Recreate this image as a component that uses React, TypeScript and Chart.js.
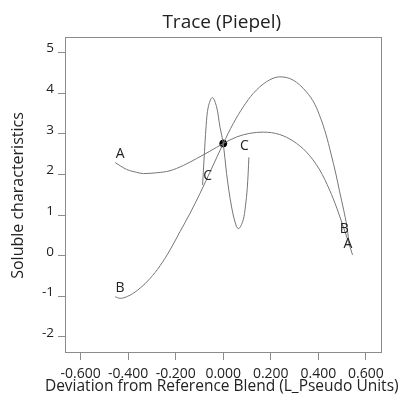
import React, { useEffect, useRef } from 'react';
import { Chart, registerables } from 'chart.js';

Chart.register(...registerables);

const curveNames = ['A', 'B', 'C'];

const curveA = [
  { x: -0.455, y: 2.29 }, { x: -0.406, y: 2.12 }, { x: -0.364, y: 2.05 },
  { x: -0.336, y: 2.02 }, { x: -0.28, y: 2.04 }, { x: -0.224, y: 2.09 },
  { x: -0.168, y: 2.22 }, { x: -0.112, y: 2.39 }, { x: -0.056, y: 2.57 },
  { x: 0, y: 2.76 }, { x: 0.056, y: 2.92 }, { x: 0.112, y: 3.01 },
  { x: 0.168, y: 3.04 }, { x: 0.238, y: 2.98 }, { x: 0.294, y: 2.82 },
  { x: 0.35, y: 2.55 }, { x: 0.406, y: 2.11 }, { x: 0.448, y: 1.61 },
  { x: 0.478, y: 1.17 }, { x: 0.504, y: 0.73 }, { x: 0.524, y: 0.39 },
  { x: 0.544, y: 0.02 },
];

const curveB = [
  { x: -0.455, y: -1.01 }, { x: -0.434, y: -1.05 }, { x: -0.392, y: -0.97 },
  { x: -0.35, y: -0.8 }, { x: -0.308, y: -0.56 }, { x: -0.266, y: -0.25 },
  { x: -0.224, y: 0.14 }, { x: -0.182, y: 0.59 }, { x: -0.14, y: 1.04 },
  { x: -0.098, y: 1.53 }, { x: -0.05, y: 2.13 }, { x: 0, y: 2.76 },
  { x: 0.042, y: 3.25 }, { x: 0.084, y: 3.66 }, { x: 0.126, y: 3.99 },
  { x: 0.182, y: 4.28 }, { x: 0.238, y: 4.4 }, { x: 0.294, y: 4.32 },
  { x: 0.35, y: 4.03 }, { x: 0.385, y: 3.73 }, { x: 0.41, y: 3.38 },
  { x: 0.432, y: 2.99 }, { x: 0.453, y: 2.52 }, { x: 0.474, y: 2.01 },
  { x: 0.49, y: 1.57 }, { x: 0.507, y: 1.12 }, { x: 0.52, y: 0.73 },
  { x: 0.528, y: 0.39 },
];

const curveC = [
  { x: -0.087, y: 1.74 }, { x: -0.081, y: 2.35 }, { x: -0.072, y: 3.2 },
  { x: -0.063, y: 3.66 }, { x: -0.046, y: 3.89 }, { x: -0.028, y: 3.66 },
  { x: -0.014, y: 3.17 }, { x: 0, y: 2.76 }, { x: 0.014, y: 2.02 },
  { x: 0.035, y: 1.2 }, { x: 0.056, y: 0.71 }, { x: 0.067, y: 0.67 },
  { x: 0.084, y: 0.88 }, { x: 0.093, y: 1.2 }, { x: 0.101, y: 1.65 },
  { x: 0.108, y: 2.42 },
];

const referencePoint = [{ x: 0, y: 2.76 }];

const xTicks = [-0.6, -0.4, -0.2, 0, 0.2, 0.4, 0.6];
const yTicks = [-2, -1, 0, 1, 2, 3, 4, 5];

const xRange = [-0.666, 0.666];
const yRange = [-2.37, 5.38];

const titleText = 'Trace (Piepel)';
const xTitle = 'Deviation from Reference Blend (L_Pseudo Units)';
const yTitle = 'Soluble characteristics';

const FONT = "'Open Sans', 'Noto Sans', sans-serif";
const LINE = '#767676';
const FRAME = '#8c8c8c';
const TEXT = '#222222';

export default function App() {
  const ref = useRef<HTMLCanvasElement | null>(null);

  useEffect(() => {
    if (!ref.current) return;

    const framePlugin = {
      id: 'frame',
      beforeDatasetsDraw(chart: any) {
        const { ctx, chartArea: a } = chart;
        ctx.save();
        ctx.strokeStyle = FRAME;
        ctx.lineWidth = 1;
        const x0 = Math.floor(a.left) + 0.5;
        const x1 = Math.floor(a.right) + 0.5;
        const y0 = Math.floor(a.top) + 0.5;
        const y1 = Math.floor(a.bottom) + 0.5;
        ctx.strokeRect(x0, y0, x1 - x0, y1 - y0);
        ctx.restore();
      },
    };

    const labelPlugin = {
      id: 'endLabels',
      afterDatasetsDraw(chart: any) {
        const { ctx } = chart;
        ctx.save();
        ctx.font = `14px ${FONT}`;
        ctx.fillStyle = TEXT;
        ctx.textAlign = 'center';
        ctx.textBaseline = 'middle';
        curveNames.forEach((name, i) => {
          const meta = chart.getDatasetMeta(i);
          const pts = meta.data;
          if (!pts.length) return;
          const first = pts[0];
          const last = pts[pts.length - 1];
          ctx.fillText(name, first.x + 5, first.y - 9);
          ctx.fillText(name, last.x - 4.5, last.y - 11);
        });
        ctx.restore();
      },
    };

    const titlePlugin = {
      id: 'titles',
      afterDraw(chart: any) {
        const { ctx, chartArea: a } = chart;
        const cx = (a.left + a.right) / 2 - 1.5;
        const cy = (a.top + a.bottom) / 2 + 1;
        ctx.save();
        ctx.fillStyle = TEXT;
        ctx.textAlign = 'center';
        ctx.textBaseline = 'middle';
        ctx.font = `19px ${FONT}`;
        ctx.fillText(titleText, cx, 22.5);
        ctx.font = `15.5px ${FONT}`;
        ctx.fillText(xTitle, cx, 387);
        ctx.font = `16px ${FONT}`;
        ctx.translate(18, cy);
        ctx.rotate(-Math.PI / 2);
        ctx.fillText(yTitle, 0, 0);
        ctx.restore();
      },
    };

    const lineDs = (data: any[], monotone: boolean) => ({
      data,
      showLine: true,
      borderColor: LINE,
      borderWidth: 1,
      pointRadius: 0,
      tension: 0.35,
      cubicInterpolationMode: monotone ? 'monotone' : 'default',
      fill: false,
    });

    const chart = new Chart(ref.current, {
      type: 'scatter',
      data: {
        datasets: [
          lineDs(curveA, true),
          lineDs(curveB, true),
          lineDs(curveC, false),
          {
            data: referencePoint,
            pointRadius: 3.5,
            pointBackgroundColor: '#000',
            pointBorderColor: '#000',
            showLine: false,
          } as any,
        ],
      },
      options: {
        animation: false,
        responsive: false,
        devicePixelRatio: 1,
        layout: { padding: { top: 37, right: 21.5, left: 0, bottom: 0 } },
        plugins: {
          legend: { display: false },
          tooltip: { enabled: false },
          title: { display: false },
        },
        scales: {
          x: {
            type: 'linear',
            min: xRange[0],
            max: xRange[1],
            afterBuildTicks: (scale: any) => {
              scale.ticks = xTicks.map((v) => ({ value: v }));
            },
            afterFit: (scale: any) => {
              scale.height = 53;
            },
            border: { display: false },
            grid: {
              drawOnChartArea: false,
              drawTicks: true,
              tickLength: 8,
              tickColor: FRAME,
            },
            ticks: {
              padding: 6,
              color: TEXT,
              font: { family: FONT, size: 14 },
              maxRotation: 0,
              autoSkip: false,
              callback: (v: any) => Number(v).toFixed(3),
            },
          },
          y: {
            type: 'linear',
            min: yRange[0],
            max: yRange[1],
            afterBuildTicks: (scale: any) => {
              scale.ticks = yTicks.map((v) => ({ value: v }));
            },
            afterFit: (scale: any) => {
              scale.width = 65;
            },
            border: { display: false },
            grid: {
              drawOnChartArea: false,
              drawTicks: true,
              tickLength: 7,
              tickColor: FRAME,
            },
            ticks: {
              padding: 4,
              labelOffset: -4,
              color: TEXT,
              font: { family: FONT, size: 13.5 },
              autoSkip: false,
              callback: (v: any) => String(v),
            },
          },
        },
      },
      plugins: [framePlugin, labelPlugin, titlePlugin],
    } as any);

    return () => chart.destroy();
  }, []);

  return (
    <div style={{ position: 'absolute', left: 0, top: 0, width: 403, height: 405, background: '#fff' }}>
      <canvas ref={ref} width={403} height={405} style={{ display: 'block' }} />
    </div>
  );
}
